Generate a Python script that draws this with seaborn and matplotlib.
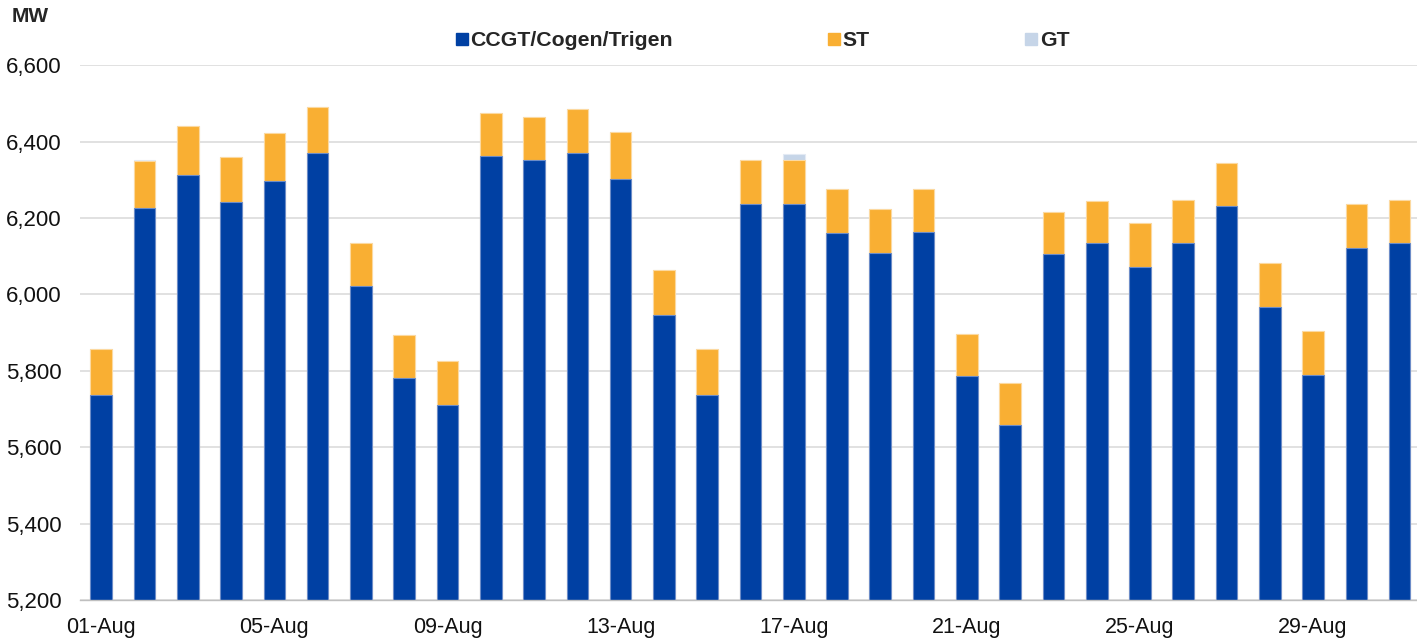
import pandas as pd
import seaborn as sns
import matplotlib.pyplot as plt
from matplotlib.lines import Line2D

days = [f"{d:02d}-Aug" for d in range(1, 32)]

ccgt = [5736, 6226, 6314, 6241, 6297, 6371, 6022, 5782, 5710, 6362,
        6352, 6370, 6302, 5945, 5738, 6238, 6238, 6160, 6109, 6163,
        5787, 5658, 6107, 6136, 6071, 6134, 6231, 5967, 5789, 6122, 6134]
total_st = [5857, 6349, 6441, 6359, 6424, 6492, 6135, 5893, 5825, 6475,
            6465, 6486, 6425, 6064, 5857, 6352, 6352, 6276, 6223, 6276,
            5897, 5768, 6217, 6246, 6186, 6247, 6345, 6082, 5904, 6236, 6247]
gt = [0, 3, 0, 0, 0, 0, 0, 0, 0, 0,
      0, 0, 0, 0, 0, 0, 16, 0, 0, 0,
      0, 0, 0, 0, 0, 0, 0, 0, 0, 0, 0]

df = pd.DataFrame({"day": days, "ccgt": ccgt, "ccgt_st": total_st})
df["all"] = df["ccgt_st"] + pd.Series(gt)

c_ccgt = "#0040A3"
c_st = "#F9AF33"
c_gt = "#C6D5E8"

sns.set_style("white")
plt.rcParams["font.family"] = ["Liberation Sans", "DejaVu Sans"]

fig = plt.figure(figsize=(14.17, 6.41), dpi=100)
ax = fig.add_axes([79.6 / 1417, 1 - 600 / 641, (1421.3 - 79.6) / 1417, (600 - 65.3) / 641])

# stacked bars drawn as layered cumulative totals
sns.barplot(data=df, x="day", y="all", color=c_gt, width=0.5, saturation=1,
            edgecolor="#E3EAF4", linewidth=0.8, ax=ax)
sns.barplot(data=df, x="day", y="ccgt_st", color=c_st, width=0.5, saturation=1,
            edgecolor="#FCD9A0", linewidth=0.8, ax=ax)
sns.barplot(data=df, x="day", y="ccgt", color=c_ccgt, width=0.5, saturation=1,
            edgecolor="#6C8CC8", linewidth=0.8, ax=ax)

ax.set_ylim(5200, 6600)
ax.set_xlim(-0.5, 30.5)
ax.set_yticks(range(5200, 6601, 200))
ax.set_yticklabels([f"{v:,}" for v in range(5200, 6601, 200)], fontsize=16, color="#111111")
ax.yaxis.grid(True, color="#D9D9D9", linewidth=1.1)
ax.set_axisbelow(True)

ax.set_xticks(range(0, 31, 4))
ax.set_xticklabels(days[::4], fontsize=15.5, color="#111111")
ax.set_xticks([i - 0.5 for i in range(32)], minor=True)
ax.tick_params(axis="x", which="major", length=0, pad=12)
ax.tick_params(axis="x", which="minor", length=6, width=1, color="#BFBFBF", direction="out")
ax.tick_params(axis="y", length=0, pad=13)
ax.set_xlabel("")
ax.set_ylabel("")

for s in ["top", "right", "left"]:
    ax.spines[s].set_visible(False)
ax.spines["bottom"].set_color("#BFBFBF")
ax.spines["bottom"].set_linewidth(1)

handles = [Line2D([], [], marker="s", linestyle="", markersize=8, color=c, label=l)
           for c, l in [(c_ccgt, "CCGT/Cogen/Trigen"), (c_st, "ST"), (c_gt, "GT")]]
fig.legend(handles=handles, loc="center", bbox_to_anchor=(0.538, 1 - 41 / 641), ncol=3,
           frameon=False, prop={"weight": "bold", "size": 15.3}, columnspacing=7.3,
           handletextpad=0.1, handlelength=0.6)

fig.text(12 / 1417, 1 - 17 / 641, "MW", fontsize=15, fontweight="bold", va="center")

fig.savefig("out.png", dpi=100)
